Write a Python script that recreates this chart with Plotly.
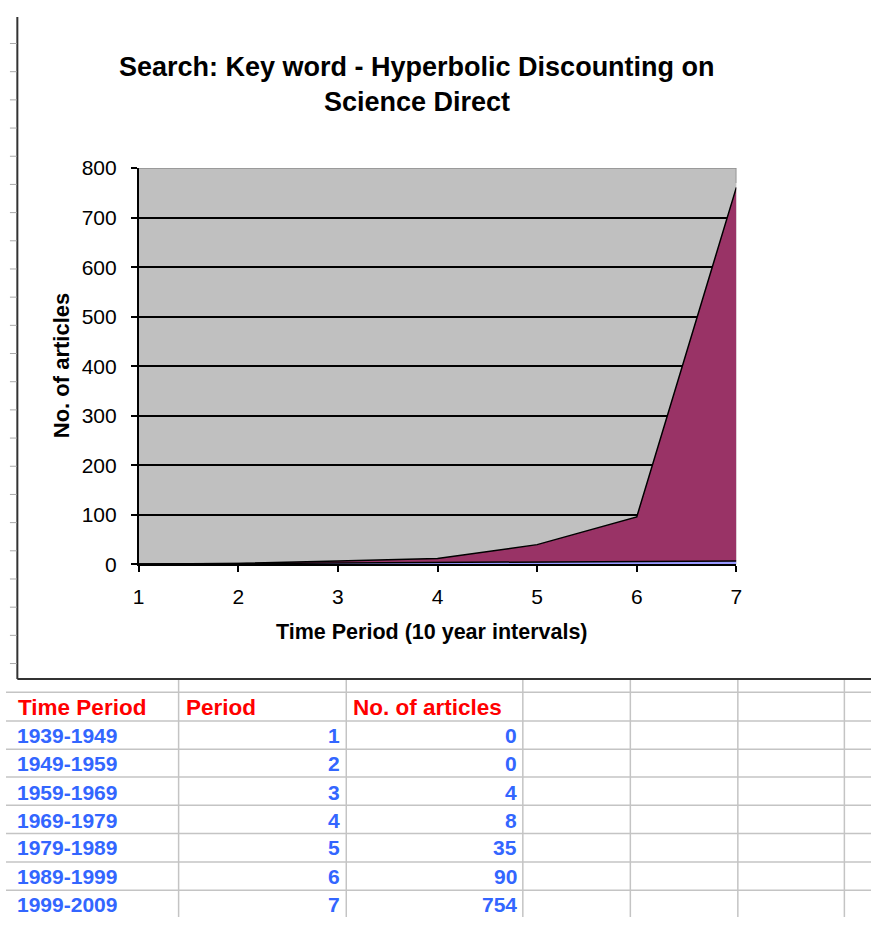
import plotly.graph_objects as go

# ---- data ----
time_periods = ["1939-1949", "1949-1959", "1959-1969", "1969-1979",
                "1979-1989", "1989-1999", "1999-2009"]
periods = [1, 2, 3, 4, 5, 6, 7]
articles = [0, 0, 4, 8, 35, 90, 754]
y_ticks = [0, 100, 200, 300, 400, 500, 600, 700, 800]
header = ["Time Period", "Period", "No. of articles"]

W, H = 877, 928
FONT = "Arial, Liberation Sans, sans-serif"


def px(x):
    return x / W


def py(y):
    return 1 - y / H


fig = go.Figure()
fig.add_trace(go.Scatter(
    x=periods, y=periods, stackgroup="s", mode="lines",
    line=dict(color="black", width=1.5), fillcolor="#9999FF",
    hoverinfo="skip", showlegend=False))
fig.add_trace(go.Scatter(
    x=periods, y=articles, stackgroup="s", mode="lines",
    line=dict(color="black", width=1.5), fillcolor="#993366",
    hoverinfo="skip", showlegend=False))

shapes = []
annotations = []

# plot top / right border (gray)
shapes.append(dict(type="line", xref="x", yref="y", x0=1, x1=7, y0=800, y1=800,
                   line=dict(color="#8c8c8c", width=1.5), layer="above"))
shapes.append(dict(type="line", xref="x", yref="y", x0=7, x1=7, y0=770, y1=800,
                   line=dict(color="#8c8c8c", width=1.5), layer="above"))

# chart box border (left and bottom)
shapes.append(dict(type="line", xref="paper", yref="paper", x0=px(11.5), x1=px(11.5),
                   y0=py(5), y1=py(684), line=dict(color="#333333", width=2)))
shapes.append(dict(type="line", xref="paper", yref="paper", x0=px(11.5), x1=1,
                   y0=py(684), y1=py(684), line=dict(color="#333333", width=2)))
# spreadsheet gridline stubs at the left edge
yy = 32.3
while yy < 680:
    shapes.append(dict(type="line", xref="paper", yref="paper", x0=px(4), x1=px(11),
                       y0=py(yy), y1=py(yy), line=dict(color="#aaaaaa", width=1)))
    yy += 28.9

# spreadsheet grid below chart
row_lines = [697.5, 727, 756, 784.5, 813.5, 842.5, 871.5, 900.5]
col_lines = [175, 345, 524, 633, 742, 850]
for r in row_lines:
    shapes.append(dict(type="line", xref="paper", yref="paper", x0=0, x1=1,
                       y0=py(r), y1=py(r), line=dict(color="#c4c4c4", width=1.5)))
for c in col_lines:
    shapes.append(dict(type="line", xref="paper", yref="paper", x0=px(c), x1=px(c),
                       y0=py(685), y1=0, line=dict(color="#c4c4c4", width=1.5)))

# title
annotations.append(dict(text="<b>Search: Key word - Hyperbolic Discounting on</b>",
                        xref="paper", yref="paper", x=px(416.5), y=py(56),
                        showarrow=False, xanchor="center", yanchor="middle",
                        font=dict(family=FONT, size=27, color="black")))
annotations.append(dict(text="<b>Science Direct</b>",
                        xref="paper", yref="paper", x=px(416.5), y=py(92),
                        showarrow=False, xanchor="center", yanchor="middle",
                        font=dict(family=FONT, size=27, color="black")))
# axis titles
annotations.append(dict(text="<b>No. of articles</b>", textangle=-90,
                        xref="paper", yref="paper", x=px(56), y=py(363),
                        showarrow=False, xanchor="center", yanchor="middle",
                        font=dict(family=FONT, size=22, color="black")))
annotations.append(dict(text="<b>Time Period (10 year intervals)</b>",
                        xref="paper", yref="paper", x=px(432), y=py(636),
                        showarrow=False, xanchor="center", yanchor="middle",
                        font=dict(family=FONT, size=21.5, color="black")))

# table header
RED = "#FF0000"
BLUE = "#3366FF"
hdr_y = 713
for text, x in zip(header, [10, 180, 350]):
    annotations.append(dict(text="<b>" + text + "</b>", xref="paper", yref="paper",
                            x=px(x), y=py(hdr_y), showarrow=False,
                            xanchor="left", yanchor="middle",
                            font=dict(family=FONT, size=22.5, color=RED)))
row_y = [742, 771, 800, 829, 857, 886, 915]
for i, (tp, p, a) in enumerate(zip(time_periods, periods, articles)):
    y = py(row_y[i])
    annotations.append(dict(text="<b>" + tp + "</b>", xref="paper", yref="paper",
                            x=px(9), y=y, showarrow=False, xanchor="left",
                            yanchor="middle", font=dict(family=FONT, size=21, color=BLUE)))
    annotations.append(dict(text="<b>" + str(p) + "</b>", xref="paper", yref="paper",
                            x=px(341), y=y, showarrow=False, xanchor="right",
                            yanchor="middle", font=dict(family=FONT, size=21, color=BLUE)))
    annotations.append(dict(text="<b>" + str(a) + "</b>", xref="paper", yref="paper",
                            x=px(520), y=y, showarrow=False, xanchor="right",
                            yanchor="middle", font=dict(family=FONT, size=21, color=BLUE)))

fig.update_layout(
    width=W, height=H,
    margin=dict(l=0, r=0, t=0, b=0),
    paper_bgcolor="white",
    plot_bgcolor="#C0C0C0",
    showlegend=False,
    xaxis=dict(domain=[px(134.5), px(740.5)], range=[1, 7], tickvals=periods,
               showgrid=False, zeroline=False, showline=True, linecolor="black",
               linewidth=1.5, ticks="outside", ticklen=6, tickcolor="black",
               tickwidth=1.5, ticklabelstandoff=7,
               tickfont=dict(family=FONT, size=21, color="black")),
    yaxis=dict(domain=[py(566.5), py(160)], range=[0, 800], tickvals=y_ticks,
               showgrid=True, gridcolor="black", gridwidth=1.5, zeroline=False,
               showline=True, linecolor="black", linewidth=1.5, ticks="outside",
               ticklen=6, tickcolor="black", tickwidth=1.5, ticklabelstandoff=10,
               tickfont=dict(family=FONT, size=21, color="black")),
    shapes=shapes,
    annotations=annotations,
)

fig.write_html("out.html", config={"displayModeBar": False},
               post_script="document.body.style.margin='0';"
                           "document.body.style.overflow='hidden';")
